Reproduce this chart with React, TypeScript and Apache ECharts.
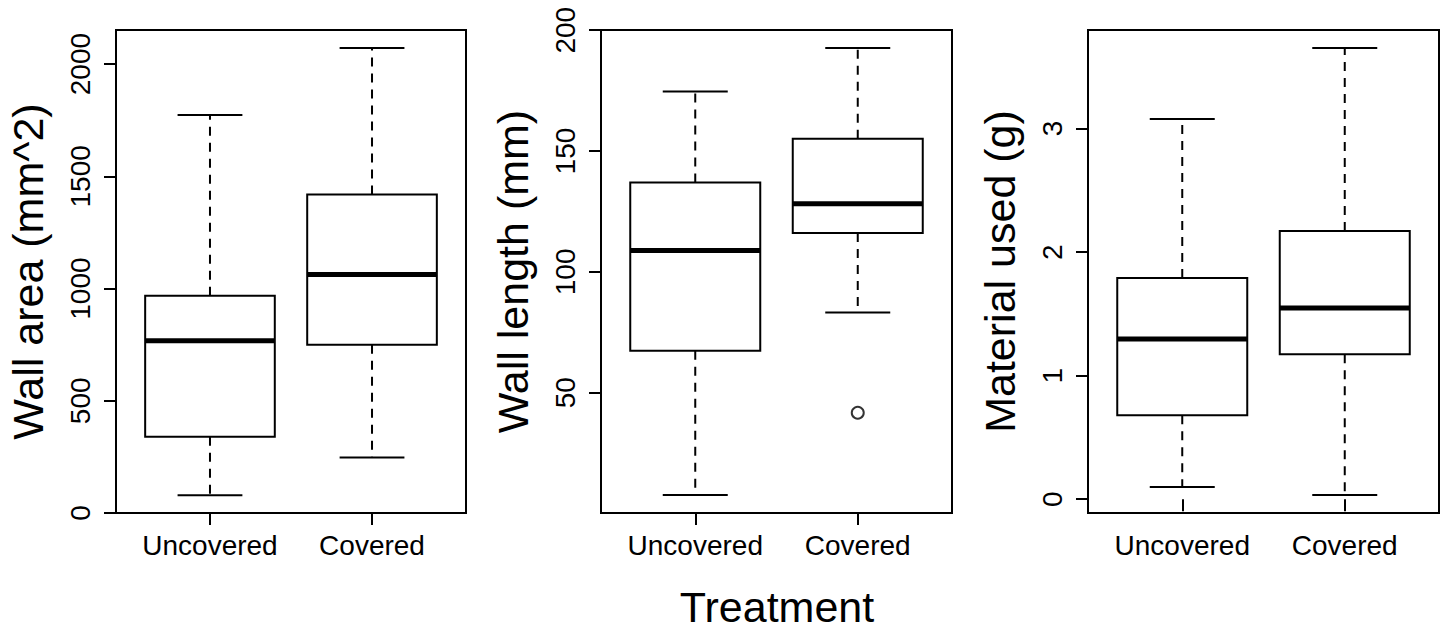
import React, { useEffect, useRef } from 'react';
import * as echarts from 'echarts';

// ---- data ----
const categories = ['Uncovered', 'Covered'];
const categoryPositions = [1, 2];

// [lower whisker, Q1, median, Q3, upper whisker]
const wallAreaStats = [
  [79, 340, 767, 968, 1773],
  [247, 750, 1063, 1419, 2072],
];
const wallLengthStats = [
  [7.6, 67.3, 108.8, 137.0, 174.6],
  [83.2, 116.1, 128.2, 155.1, 192.7],
];
const wallLengthOutliers = [[2, 41.7]];
const materialStats = [
  [0.098, 0.679, 1.297, 1.791, 3.078],
  [0.033, 1.173, 1.547, 2.171, 3.653],
];

const wallAreaTicks = [0, 500, 1000, 1500, 2000];
const wallLengthTicks = [50, 100, 150, 200];
const materialTicks = [0, 1, 2, 3];

const yTitles = ['Wall area (mm^2)', 'Wall length (mm)', 'Material used (g)'];
const xTitle = 'Treatment';

const FONT = '"Liberation Sans", Arial, sans-serif';
const BOX_W = 0.8;
const CAP_W = 0.4;
const LW = 2;

function renderBox(params: any, api: any) {
  const x = api.value(0);
  const pLo = api.coord([x, api.value(1)]);
  const pQ1 = api.coord([x, api.value(2)]);
  const pMed = api.coord([x, api.value(3)]);
  const pQ3 = api.coord([x, api.value(4)]);
  const pHi = api.coord([x, api.value(5)]);
  const bw = api.size([BOX_W, 0])[0];
  const cw = api.size([CAP_W, 0])[0];
  const cx = pMed[0];
  const solid = { stroke: '#000', lineWidth: LW };
  const dashed = { stroke: '#000', lineWidth: LW, lineDash: [9, 7] };
  return {
    type: 'group',
    children: [
      { type: 'line', shape: { x1: cx, y1: pQ3[1], x2: cx, y2: pHi[1] }, style: dashed },
      { type: 'line', shape: { x1: cx, y1: pQ1[1], x2: cx, y2: pLo[1] }, style: dashed },
      { type: 'line', shape: { x1: cx - cw / 2, y1: pHi[1], x2: cx + cw / 2, y2: pHi[1] }, style: solid },
      { type: 'line', shape: { x1: cx - cw / 2, y1: pLo[1], x2: cx + cw / 2, y2: pLo[1] }, style: solid },
      {
        type: 'rect',
        shape: { x: cx - bw / 2, y: pQ3[1], width: bw, height: pQ1[1] - pQ3[1] },
        style: { fill: '#fff', stroke: '#000', lineWidth: LW },
      },
      {
        type: 'line',
        shape: { x1: cx - bw / 2, y1: pMed[1], x2: cx + bw / 2, y2: pMed[1] },
        style: { stroke: '#000', lineWidth: 5 },
      },
    ],
  };
}

const panels = [
  { left: 116, width: 350, min: 0, max: 2152, ticks: wallAreaTicks, stats: wallAreaStats, title: yTitles[0] },
  { left: 601, width: 351, min: 0.2, max: 200.1, ticks: wallLengthTicks, stats: wallLengthStats, title: yTitles[1] },
  { left: 1088, width: 351, min: -0.112, max: 3.798, ticks: materialTicks, stats: materialStats, title: yTitles[2] },
];

export default function App() {
  const ref = useRef<HTMLDivElement>(null);
  useEffect(() => {
    document.body.style.margin = '0';
    if (!ref.current) return;
    const chart = echarts.init(ref.current, null, { renderer: 'svg' });
    const grid = panels.map((p) => ({
      left: p.left,
      top: 30,
      width: p.width,
      height: 483,
      show: true,
      borderColor: '#000',
      borderWidth: LW,
      backgroundColor: 'transparent',
    }));
    const xAxis = panels.map((p, i) => ({
      type: 'value',
      gridIndex: i,
      min: 0.42,
      max: 2.58,
      axisLine: { show: false },
      splitLine: { show: false },
      axisTick: {
        show: true,
        customValues: categoryPositions,
        length: 12,
        lineStyle: { color: '#000', width: LW },
      },
      axisLabel: {
        customValues: categoryPositions,
        formatter: (v: number) => categories[Math.round(v) - 1] ?? '',
        fontSize: 28,
        fontFamily: FONT,
        color: '#000',
        margin: 18,
      },
    }));
    const yAxis = panels.map((p, i) => ({
      type: 'value',
      gridIndex: i,
      min: p.min,
      max: p.max,
      axisLine: { show: false },
      splitLine: { show: false },
      axisTick: {
        show: true,
        customValues: p.ticks,
        length: 12,
        lineStyle: { color: '#000', width: LW },
      },
      axisLabel: {
        customValues: p.ticks,
        formatter: (v: number) => String(v),
        rotate: 90,
        fontSize: 28,
        fontFamily: FONT,
        color: '#000',
        margin: 22,
      },
      name: p.title,
      nameLocation: 'middle',
      nameRotate: 90,
      nameGap: 67,
      nameTextStyle: { fontSize: 43, fontFamily: FONT, color: '#000' },
    }));
    const series: any[] = panels.map((p, i) => ({
      type: 'custom',
      xAxisIndex: i,
      yAxisIndex: i,
      renderItem: renderBox,
      encode: { x: 0, y: [1, 2, 3, 4, 5] },
      data: p.stats.map((s, k) => [categoryPositions[k], ...s]),
      silent: true,
    }));
    series.push({
      type: 'scatter',
      xAxisIndex: 1,
      yAxisIndex: 1,
      data: wallLengthOutliers,
      symbol: 'circle',
      symbolSize: 12,
      itemStyle: { color: 'transparent', borderColor: '#000', borderWidth: 2 },
      silent: true,
      z: 5,
    });
    chart.setOption({
      animation: false,
      backgroundColor: '#fff',
      grid,
      xAxis,
      yAxis,
      series,
      graphic: [
        {
          type: 'text',
          x: 777,
          y: 607,
          style: {
            text: xTitle,
            font: `43px ${FONT}`,
            lineHeight: 36,
            fill: '#000',
            textAlign: 'center',
            textVerticalAlign: 'middle',
          },
        },
      ],
    });
    return () => chart.dispose();
  }, []);
  return <div ref={ref} style={{ width: 1445, height: 630 }} />;
}
